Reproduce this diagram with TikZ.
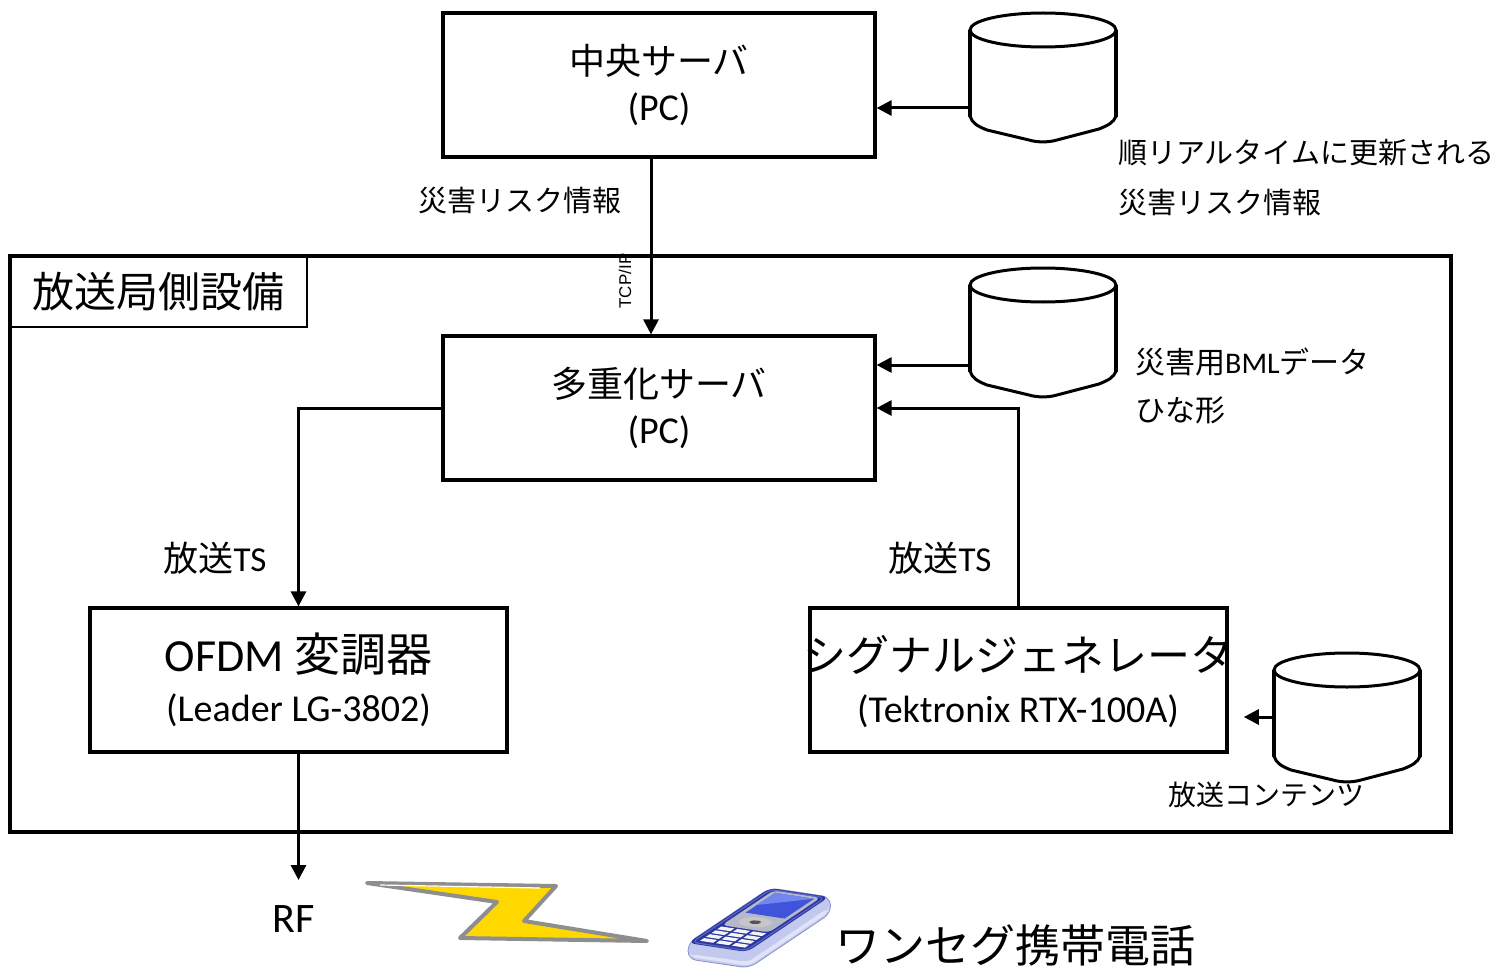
\documentclass[tikz,border=0pt]{standalone}
\usepackage{fontspec}
\setmainfont{Carlito}
\newfontfamily\jp{Noto Sans CJK JP}
\newfontfamily\arialfont{Liberation Sans}
\usetikzlibrary{arrows.meta,calc}
\definecolor{boltfill}{HTML}{FFD800}
\definecolor{boltedge}{HTML}{8E8E8E}
\definecolor{phonebody}{HTML}{2B379E}
\definecolor{phonerim}{HTML}{5664C4}
\definecolor{phoneedge}{HTML}{C3C8EE}
\definecolor{phoneline}{HTML}{8A91C8}
\definecolor{phonesilver}{HTML}{B4B8CA}
\definecolor{phonescreen}{HTML}{3F54DA}
\definecolor{phonescreenlt}{HTML}{7385F0}

% database drum: name, centre x, top y
\newcommand\dbdrum[3]{%
  \node[inner sep=0, minimum width=146, minimum height=129, anchor=north] (#1) at (#2,#3) {};
  \fill[white] ({#2-73},{#3+17}) -- ({#2-73},{#3+104}) -- ({#2-63},{#3+114}) -- ({#2},{#3+129})
      -- ({#2+60},{#3+112}) -- ({#2+73},{#3+104}) -- ({#2+73},{#3+17}) -- cycle;
  \draw[line width=4pt] ({#2-73},{#3+17}) -- ({#2-73},{#3+104});
  \draw[line width=4pt] ({#2+73},{#3+17}) -- ({#2+73},{#3+104});
  \draw[line width=3pt, line join=round]
      ({#2-73},{#3+103}) .. controls ({#2-71},{#3+110}) and ({#2-66},{#3+113}) .. ({#2-56},{#3+117})
      -- ({#2-14},{#3+127}) .. controls ({#2-6},{#3+129.5}) and ({#2+6},{#3+129.5}) .. ({#2+14},{#3+127})
      -- ({#2+56},{#3+116}) .. controls ({#2+66},{#3+112}) and ({#2+71},{#3+109}) .. ({#2+73},{#3+103});
  \draw[line width=3pt, fill=white] (#2,{#3+17}) ellipse [x radius=73, y radius=17];
}
% quadrilateral in the current (possibly skewed) frame: x0, y0, x1, y1
\newcommand\skewquad[4]{(#1,#2) -- (#3,#2) -- (#3,#4) -- (#1,#4) -- cycle}

\begin{document}
\begin{tikzpicture}[x=1pt, y=-1pt,
  box/.style={draw, line width=3.2pt, inner sep=0, align=center},
  arr/.style={line width=3pt, -{Triangle[length=15pt,width=15pt]}},
  lab/.style={inner sep=0, font=\jp\fontsize{29}{34}\selectfont},
  tslab/.style={inner sep=0, font=\fontsize{35}{40}\selectfont},
]
\useasboundingbox (0,0) rectangle (1497,971);

% vertical-link protocol tag (the frame line passes over it)
\node[inner sep=0, rotate=90, font=\arialfont\fontsize{17}{20}\selectfont] (tcp) at (625,281) {TCP/IP};

% station-side enclosure
\node[draw, line width=3.2pt, inner sep=0, minimum width=1441, minimum height=576] (frame) at (730.5,544) {};
\node[draw, line width=2pt, inner sep=0, minimum width=298, minimum height=72, anchor=north west,
      font=\jp\fontsize{42}{48}\selectfont] (title) at (frame.north west) {放送局側設備};

% main boxes
\node[box, minimum width=432, minimum height=144, font=\fontsize{38}{46}\selectfont] (cs) at (659,85)
  {{\jp\fontsize{36}{46}\selectfont 中央サーバ}\\(PC)};
\node[box, minimum width=432, minimum height=144, font=\fontsize{38}{46}\selectfont] (mux) at (659,408)
  {{\jp\fontsize{36}{46}\selectfont 多重化サーバ}\\(PC)};
\node[box, minimum width=417, minimum height=144, font=\fontsize{38}{50}\selectfont] (ofdm) at (298.5,680)
  {{\fontsize{46}{50}\selectfont OFDM {\jp 変調器}}\\(Leader LG-3802)};
\node[box, minimum width=417, minimum height=144] (sg) at (1018.5,680) {};
\node[inner sep=0, align=center, font=\fontsize{38}{51}\selectfont] (sgtext) at (1018,682)
  {{\jp\fontsize{43}{50}\selectfont シグナルジェネレータ}\\(Tektronix RTX-100A)};

% databases
\dbdrum{db1}{1043}{13}
\dbdrum{db2}{1043}{268}
\dbdrum{db3}{1347}{653}

% database captions
\node[lab, anchor=west] (db1a) at (1118,153) {順リアルタイムに更新される};
\node[lab, anchor=west] (db1b) at (1118,203) {災害リスク情報};
\node[lab, anchor=west, font=\jp\fontsize{30}{34}\selectfont] (db2a) at (1135,362) {災害用{\fontspec{Carlito}BML}データ};
\node[lab, anchor=west, font=\jp\fontsize{30}{34}\selectfont] (db2b) at (1135,410) {ひな形};
\node[lab, font=\jp\fontsize{28}{34}\selectfont] (db3a) at (1266,795) {放送コンテンツ};

% connectors
\coordinate (y1) at (0,108);
\coordinate (y2) at (0,365);
\coordinate (y3) at (0,717);
\draw[arr] (db1.west |- y1) -- (cs.east |- y1);
\draw[arr] (db2.west |- y2) -- (mux.east |- y2);
\draw[arr] (db3.west |- y3) -- ++(-30,0);

\draw[arr] ($(cs.south)+(-8,0)$) -- ($(mux.north)+(-8,0)$);
\node[lab] (risk) at (520,201) {災害リスク情報};

\draw[arr] (sg.north) |- (mux.east);
\draw[arr] (mux.west) -| (ofdm.north);
\node[tslab] (ts1) at (215,558) {{\jp 放送}TS};
\node[tslab] (ts2) at (940,558) {{\jp 放送}TS};

\coordinate (rftip) at (298.5,880);
\draw[arr] (ofdm.south) -- (rftip);
\node[inner sep=0, font=\fontsize{42}{48}\selectfont] (rf) at (294,919) {RF};

% radio link bolt
\draw[line width=4pt, draw=boltedge, fill=boltfill, line join=round]
  (367,883) -- (556,886) -- (524,921) -- (647,941) -- (460,938) -- (497,902) -- cycle;
\draw[line width=1.2pt, white] (380,885) -- (540,888);

% handset: light shell seen from the side
\fill[phoneedge, rounded corners=8] (688,943) -- (770,888) -- (830,897) -- (831,913) -- (749,968) -- (688,959) -- cycle;
\fill[white, opacity=0.5, rounded corners=6] (690,954) -- (748,962) -- (828,908) -- (829,912) -- (749,966) -- (690,957) -- cycle;
\draw[phoneline, line width=0.8pt, rounded corners=8] (688,943) -- (770,888) -- (830,897) -- (831,913) -- (749,968) -- (688,959) -- cycle;
% handset: front face in its own skewed frame
\begin{scope}[shift={(688,943)}, x={(0.82pt,0.55pt)}, y={(0.59pt,-0.09pt)}]
  \fill[phonebody, rounded corners=7] \skewquad{0}{0}{100}{100};
  \draw[phonerim, line width=1.2pt, rounded corners=6] \skewquad{2}{4}{98}{96};
  \fill[phonesilver, rounded corners=5] \skewquad{34}{10}{97}{90};
  \fill[phonescreen] \skewquad{58}{17}{94}{83};
  \fill[phonescreenlt] (72,17) -- (94,17) -- (94,83) -- cycle;
  \fill[gray!45] (46,50) ellipse [x radius=8, y radius=26];
  \fill[gray!65!black] (46,50) ellipse [x radius=3, y radius=9];
  \foreach \i in {0,...,3} {
    \foreach \j in {0,1,2} {
      \fill[white!85!phonesilver] \skewquad{6+\i*7}{12+\j*27}{11+\i*7}{34+\j*27};
    }
  }
\end{scope}
\node[inner sep=0, font=\jp\fontsize{45}{50}\selectfont] (phone) at (1015,945) {ワンセグ携帯電話};
\end{tikzpicture}
\end{document}
